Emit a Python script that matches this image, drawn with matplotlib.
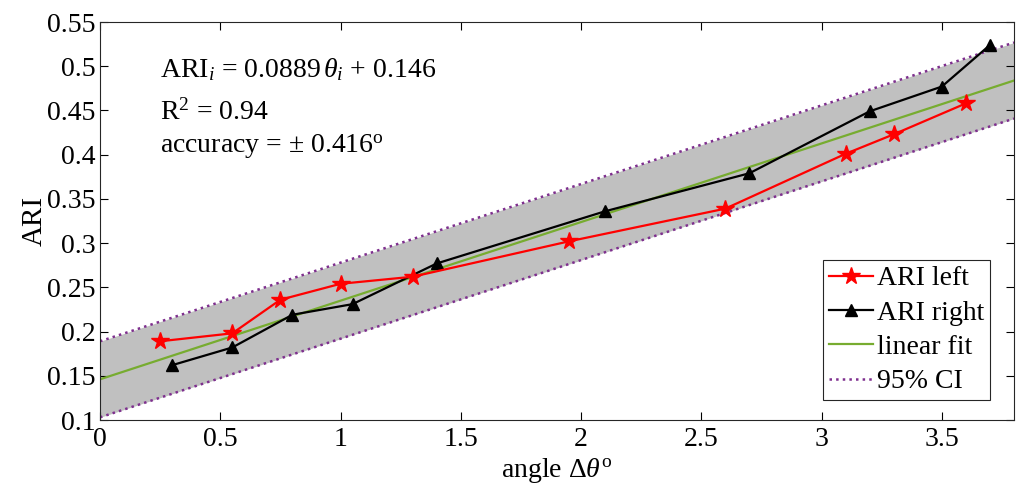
import matplotlib
matplotlib.use("Agg")
import matplotlib.pyplot as plt
import numpy as np

plt.rcParams['font.family'] = ['Liberation Serif', 'DejaVu Serif']
plt.rcParams['mathtext.fontset'] = 'custom'
plt.rcParams['mathtext.rm'] = 'Liberation Serif'
plt.rcParams['mathtext.it'] = 'Liberation Serif:italic'

# data
left_x = [0.25, 0.55, 0.75, 1.0, 1.3, 1.95, 2.6, 3.1, 3.3, 3.6]
left_y = [0.189, 0.198, 0.236, 0.254, 0.262, 0.302, 0.339, 0.401, 0.423, 0.458]
right_x = [0.30, 0.55, 0.80, 1.05, 1.40, 2.10, 2.70, 3.20, 3.50, 3.70]
right_y = [0.162, 0.182, 0.219, 0.231, 0.277, 0.336, 0.379, 0.449, 0.477, 0.524]
fit_slope = 0.0889
fit_intercept = 0.146
ci_half = 0.043
x_range = [0.0, 3.8]

xticks = [0, 0.5, 1, 1.5, 2, 2.5, 3, 3.5]
xticklabels = ['0', '0.5', '1', '1.5', '2', '2.5', '3', '3.5']
yticks = [0.1, 0.15, 0.2, 0.25, 0.3, 0.35, 0.4, 0.45, 0.5, 0.55]
yticklabels = ['0.1', '0.15', '0.2', '0.25', '0.3', '0.35', '0.4', '0.45', '0.5', '0.55']

fig = plt.figure(figsize=(10.16, 4.84), dpi=100)
ax = fig.add_axes([100/1016, 1 - 420/484, (1014-100)/1016, (420-22)/484])

xf = np.array(x_range)
yf = fit_slope * xf + fit_intercept
ax.fill_between(xf, yf - ci_half, yf + ci_half, color='#c0c0c0', lw=0, zorder=1)
ax.plot(left_x, left_y, '-', color='red', lw=1.6, marker='*', ms=13, mec='red', mfc='red', label='ARI left', zorder=4)
ax.plot(right_x, right_y, '-', color='black', lw=1.6, marker='^', ms=9, mec='black', mfc='black', label='ARI right', zorder=3)
ax.plot(xf, yf, '-', color='#77ac30', lw=1.6, label='linear fit', zorder=2)
ax.plot(xf, yf + ci_half, ':', color='#7e2f8e', lw=1.8, label='95% CI', zorder=2)
ax.plot(xf, yf - ci_half, ':', color='#7e2f8e', lw=1.8, zorder=2)

ax.set_xlim(x_range)
ax.set_ylim(0.1, 0.55)
ax.set_xticks(xticks)
ax.set_xticklabels(xticklabels)
ax.set_yticks(yticks)
ax.set_yticklabels(yticklabels)
ax.tick_params(direction='in', top=True, right=True, length=6, width=0.8, labelsize=20, colors='black')
ax.tick_params(axis='x', pad=5)
ax.tick_params(axis='y', pad=3)
for s in ax.spines.values():
    s.set_color('#262626')
    s.set_linewidth(0.8)

ax.set_xlabel(r'angle $\Delta\theta^{\mathrm{o}}$', fontsize=20, labelpad=3)
ax.set_ylabel('ARI', fontsize=21, labelpad=0)

ax.text(0.066, 0.862, r'ARI$_i$ = 0.0889$\,\theta_i$ + 0.146', transform=ax.transAxes, fontsize=20, va='baseline')
ax.text(0.066, 0.754, r'R$^2$ = 0.94', transform=ax.transAxes, fontsize=20, va='baseline')
ax.text(0.066, 0.671, r'accuracy = $\pm$ 0.416$^{\mathrm{o}}$', transform=ax.transAxes, fontsize=20, va='baseline')

leg = ax.legend(loc='lower right', bbox_to_anchor=(990/1016, 1 - 400/484), bbox_transform=fig.transFigure,
                fontsize=20, handlelength=1.6, handletextpad=0.15,
                borderpad=0.2, labelspacing=0.32, borderaxespad=0.0, fancybox=False,
                framealpha=1, edgecolor='#262626')
leg.get_frame().set_linewidth(0.8)

fig.savefig('out.png', dpi=100)
